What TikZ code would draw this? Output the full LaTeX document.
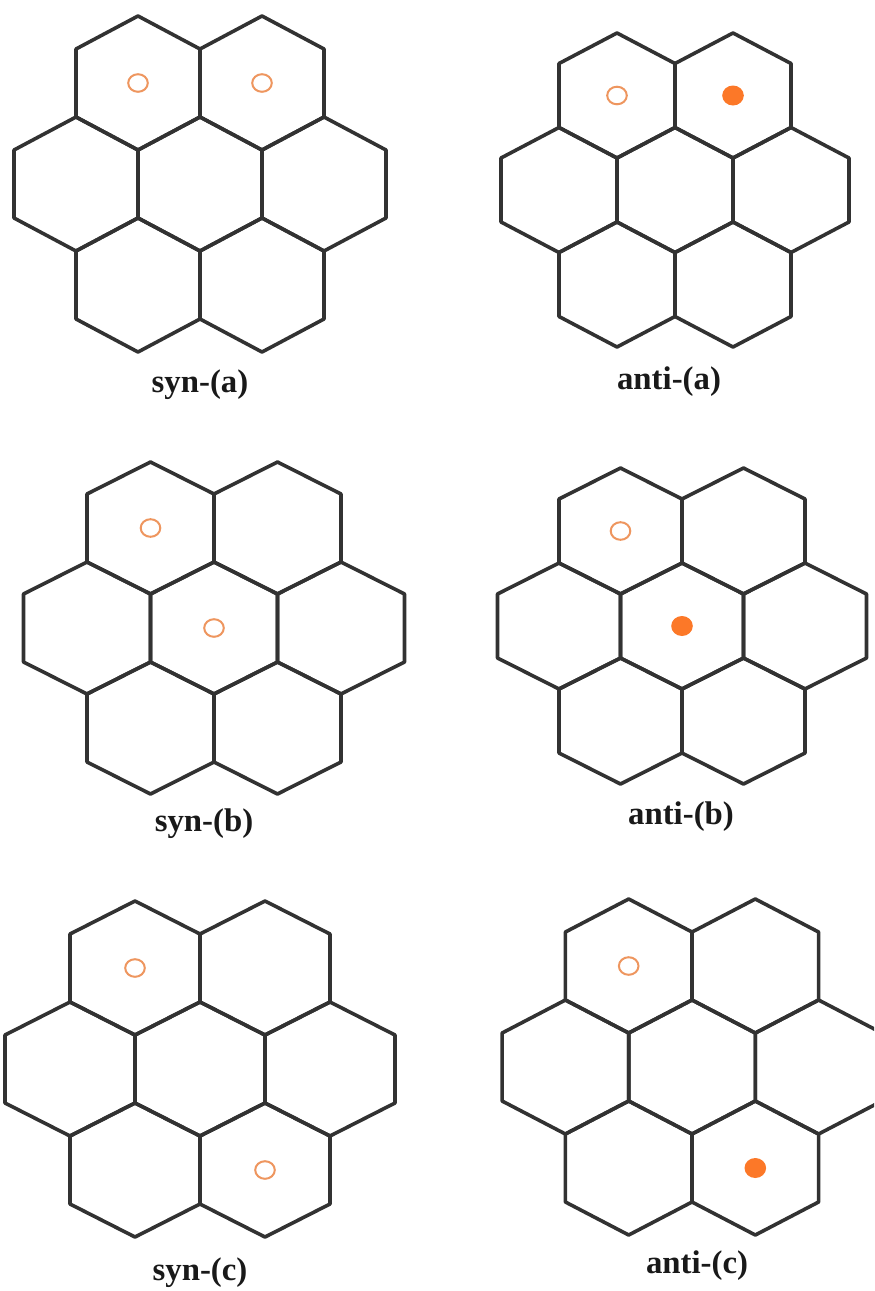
\documentclass[tikz,border=0pt]{standalone}
\usepackage{fontspec}
\setmainfont{Liberation Serif}
\usetikzlibrary{shapes.geometric}
\definecolor{hexgray}{RGB}{50,50,50}
\definecolor{ringorange}{RGB}{238,150,95}
\definecolor{dotorange}{RGB}{252,120,40}

\begin{document}
\begin{tikzpicture}[x=0.5pt,y=-0.5pt,
  hexline/.style={line width=1.8pt,hexgray,line join=round},
  ring/.style={ellipse,draw=ringorange,line width=1pt,minimum width=9.8pt,minimum height=8.8pt,inner sep=0pt},
  spot/.style={ellipse,fill=dotorange,minimum width=10.8pt,minimum height=10pt,inner sep=0pt},
  caption/.style={font=\bfseries\fontsize{16.4}{18}\selectfont,text=black!90}]
\useasboundingbox (0,0) rectangle (874,1291);
\clip (0,0) rectangle (874,1291);
% seven cells per cluster: name / centre / half width / half side / slant rise
\foreach \nm/\cx/\cy/\a/\b/\c in {sa/200/184/62/34/33,aa/675/190/58/32/30.5,sb/214/628/63.5/34/32,ab/682/626/61.5/32/31,sc/200/1069/65/34/33,ac/692/1067/63.3/34/33}{
  \foreach \k/\dx/\dy in {1/-1/-1,2/1/-1,3/-2/0,4/0/0,5/2/0,6/-1/1,7/1/1}{
    \coordinate (\nm-\k) at ({\cx+\dx*\a},{\cy+\dy*(2*\b+\c)});
    \draw[hexline] (\nm-\k) ++(-\a,-\b) -- ++(\a,-\c) -- ++(\a,\c) -- ++(0,2*\b) -- ++(-\a,\c) -- ++(-\a,-\c) -- cycle;}}
% markers
\node[ring] (sa-m1) at (sa-1) {};
\node[ring] (sa-m2) at (sa-2) {};
\node[ring] (aa-m1) at (aa-1) {};
\node[spot] (aa-m2) at (aa-2) {};
\node[ring] (sb-m1) at (sb-1) {};
\node[ring] (sb-m2) at (sb-4) {};
\node[ring] (ab-m1) at (ab-1) {};
\node[spot] (ab-m2) at (ab-4) {};
\node[ring] (sc-m1) at (sc-1) {};
\node[ring] (sc-m2) at (sc-7) {};
\node[ring] (ac-m1) at (ac-1) {};
\node[spot] (ac-m2) at (ac-7) {};
% captions
\node[caption] (sa-cap) at (200,385) {syn-(a)};
\node[caption] (aa-cap) at (669,382) {anti-(a)};
\node[caption] (sb-cap) at (204,824) {syn-(b)};
\node[caption] (ab-cap) at (681,817) {anti-(b)};
\node[caption] (sc-cap) at (200,1273) {syn-(c)};
\node[caption] (ac-cap) at (697,1266) {anti-(c)};
\end{tikzpicture}
\end{document}
